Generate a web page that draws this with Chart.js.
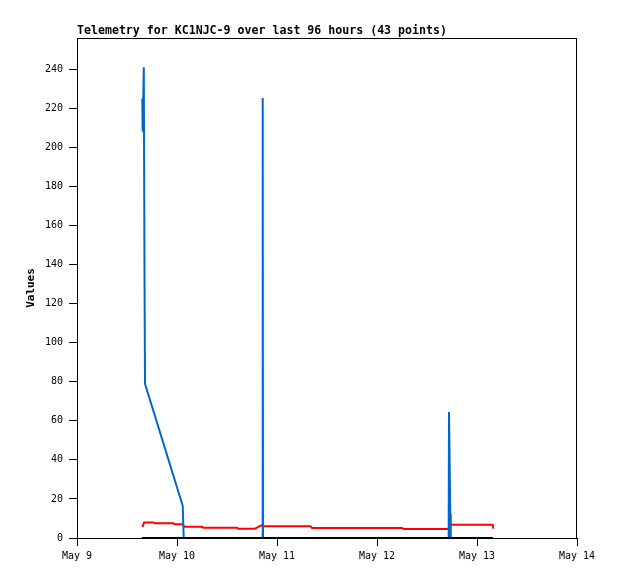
<!DOCTYPE html>
<html lang="en">

<head>
    <meta charset="UTF-8">
    <title>Telemetry KC1NJC-9</title>
    <script src="https://cdn.jsdelivr.net/npm/chart.js"></script>
</head>

<body style="margin: 0; background: #fff;">

    <canvas id="myChart" width="618" height="579"></canvas>

    <script>
        // data, x = hours since May 9 00:00
        const dayLabels = ['May 9', 'May 10', 'May 11', 'May 12', 'May 13', 'May 14'];
        const yTicks = [0, 20, 40, 60, 80, 100, 120, 140, 160, 180, 200, 220, 240];

        const blueHours = [15.67, 15.77, 16.03, 16.20, 16.32, 25.37, 25.61, 44.50, 44.57, 44.64, 89.20, 89.28, 89.59, 89.70];
        const blueValues = [225, 208, 241, 137, 79, 16.5, 0, 0, 225.3, 0, 0, 64.5, 12.3, 0];

        const redHours = [15.74, 16.08, 18.31, 18.72, 23.11, 23.40, 25.44, 25.68, 29.93, 30.24, 38.33, 38.64, 42.72, 43.44, 44.33, 44.64, 56.09, 56.40, 78.07, 78.36, 89.40, 89.64, 99.77, 99.91];
        const redValues = [5.6, 8.0, 8.0, 7.5, 7.5, 7.0, 7.0, 5.8, 5.8, 5.3, 5.3, 4.8, 4.8, 5.6, 6.6, 6.0, 6.0, 5.1, 5.1, 4.6, 4.6, 6.8, 6.8, 4.8];

        const blackHours = [15.6, 99.85];
        const blackValues = [0, 0];

        const toPoints = (xs, ys) => xs.map((x, i) => ({ x: x, y: ys[i] }));

        // title + box round the plot area
        const frame = {
            id: 'frame',
            afterDraw(chart) {
                const c = chart.ctx;
                const a = chart.chartArea;
                c.save();
                c.strokeStyle = '#000';
                c.lineWidth = 1;
                c.strokeRect(a.left + 0.5, a.top + 0.5, a.right - a.left - 1, a.bottom - a.top);
                c.fillStyle = '#000';
                c.font = 'bold 11.6px "DejaVu Sans Mono"';
                c.textBaseline = 'alphabetic';
                c.textAlign = 'left';
                c.fillText('Telemetry for KC1NJC-9 over last 96 hours (43 points)', a.left, 34);
                c.restore();
            }
        };

        const lineStyle = {
            pointRadius: 0,
            borderWidth: 2,
            tension: 0,
            borderJoinStyle: 'bevel',
            clip: false
        };

        new Chart(document.getElementById('myChart'), {
            type: 'line',
            data: {
                datasets: [
                    { ...lineStyle, data: toPoints(blueHours, blueValues), borderColor: '#0066cc', order: 2 },
                    { ...lineStyle, data: toPoints(redHours, redValues), borderColor: '#ff0000', order: 3 },
                    { ...lineStyle, data: toPoints(blackHours, blackValues), borderColor: '#000000', order: 1 }
                ]
            },
            options: {
                responsive: false,
                animation: false,
                layout: { padding: { top: 38, right: 41, left: 0, bottom: 0 } },
                plugins: { legend: { display: false }, tooltip: { enabled: false } },
                scales: {
                    x: {
                        type: 'linear',
                        min: 0,
                        max: 120,
                        afterFit: s => { s.height = 41; },
                        afterBuildTicks: s => { s.ticks = dayLabels.map((d, i) => ({ value: i * 24 })); },
                        border: { color: '#000', width: 1 },
                        grid: { drawOnChartArea: false, tickLength: 8, tickColor: '#000' },
                        ticks: {
                            color: '#000',
                            padding: 4,
                            maxRotation: 0,
                            font: { family: 'DejaVu Sans Mono', size: 10 },
                            callback: v => dayLabels[Math.round(v / 24)]
                        }
                    },
                    y: {
                        min: 0,
                        max: 256,
                        afterFit: s => { s.width = 77; },
                        afterBuildTicks: s => { s.ticks = yTicks.map(v => ({ value: v })); },
                        border: { color: '#000', width: 1 },
                        grid: { drawOnChartArea: false, tickLength: 8, tickColor: '#000' },
                        ticks: {
                            color: '#000',
                            padding: 6,
                            font: { family: 'DejaVu Sans Mono', size: 10 }
                        },
                        title: {
                            display: true,
                            text: 'Values',
                            color: '#000',
                            padding: { top: 25, bottom: 0 },
                            font: { family: 'DejaVu Sans Mono', size: 11, weight: 'bold' }
                        }
                    }
                }
            },
            plugins: [frame]
        });
    </script>

</body>

</html>
